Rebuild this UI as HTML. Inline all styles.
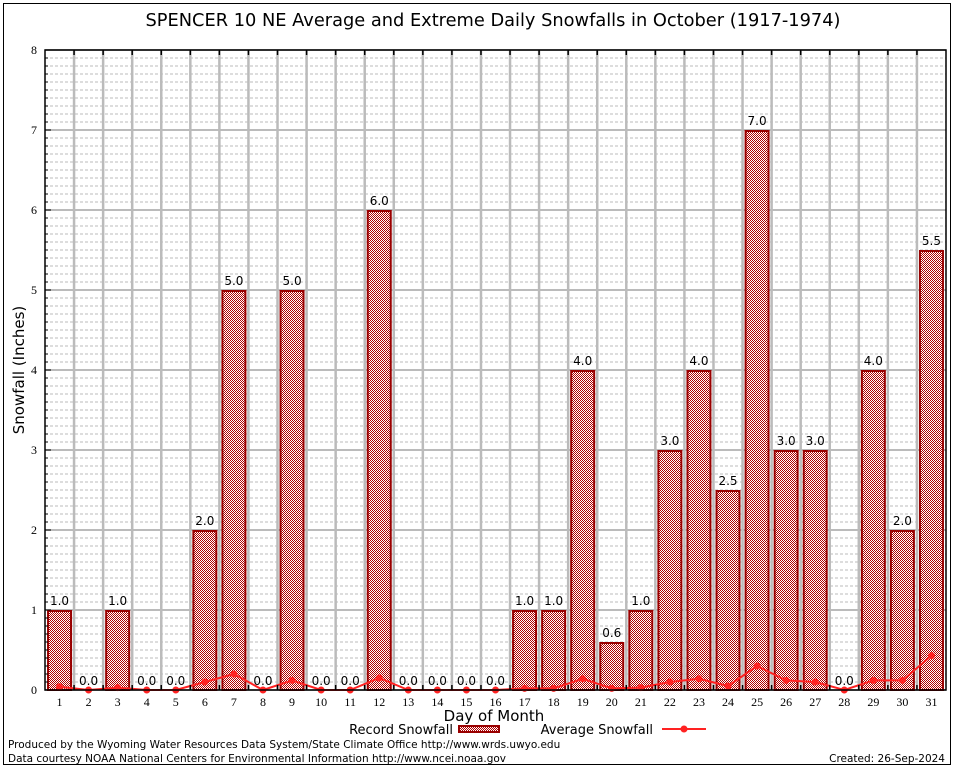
<!DOCTYPE html>
<html><head><meta charset="utf-8"><style>
html,body{margin:0;padding:0;background:#fff;}
svg{display:block;font-family:"DejaVu Sans","Liberation Sans",sans-serif;}
</style></head><body>
<svg id="chart" width="954" height="768" viewBox="0 0 954 768">
<defs>
<pattern id="chk" width="2" height="2" patternUnits="userSpaceOnUse">
<rect width="2" height="2" fill="#fff"/><rect width="1" height="1" fill="#b00000"/><rect x="1" y="1" width="1" height="1" fill="#b00000"/>
</pattern>
</defs>
<rect x="3.5" y="3.5" width="947" height="761" fill="none" stroke="#000"/>
<text x="493" y="26" font-size="17.8" text-anchor="middle">SPENCER 10 NE Average and Extreme Daily Snowfalls in October (1917-1974)</text>
<g id="grid"></g>
<g id="bars"></g>
<g id="avg"></g>
<g id="axes"></g>
<text transform="translate(24,370) rotate(-90)" font-size="15" text-anchor="middle">Snowfall (Inches)</text>
<text x="494" y="721" font-size="15" text-anchor="middle">Day of Month</text>
<g>
<text x="453" y="734" font-size="13" text-anchor="end">Record Snowfall</text>
<rect x="459" y="726" width="40" height="6" fill="url(#chk)" stroke="#900" stroke-width="2"/>
</g>
<g>
<text x="653" y="734" font-size="13" text-anchor="end">Average Snowfall</text>
<line x1="662" y1="729" x2="706" y2="729" stroke="#f22" stroke-width="2"/>
<circle cx="684" cy="729" r="3.5" fill="#f22"/>
</g>
<text x="8" y="748" font-size="10.5">Produced by the Wyoming Water Resources Data System/State Climate Office http://www.wrds.uwyo.edu</text>
<text x="8" y="762" font-size="10.5">Data courtesy NOAA National Centers for Environmental Information http://www.ncei.noaa.gov</text>
<text x="945" y="762" font-size="10.5" text-anchor="end">Created: 26-Sep-2024</text>
</svg>
<script>
const days=[1,2,3,4,5,6,7,8,9,10,11,12,13,14,15,16,17,18,19,20,21,22,23,24,25,26,27,28,29,30,31];
const recordSnow=[1.0,0.0,1.0,0.0,0.0,2.0,5.0,0.0,5.0,0.0,0.0,6.0,0.0,0.0,0.0,0.0,1.0,1.0,4.0,0.6,1.0,3.0,4.0,2.5,7.0,3.0,3.0,0.0,4.0,2.0,5.5];
const avgSnow=[0.04,0,0.03,0,0,0.1,0.2,0,0.12,0,0,0.15,0,0,0,0,0.02,0.02,0.14,0.02,0.03,0.1,0.14,0.05,0.3,0.12,0.1,0,0.12,0.12,0.43];
const yTicks=[0,1,2,3,4,5,6,7,8];
const NS="http://www.w3.org/2000/svg";
const L=45,R=946,T=50,B=690,yMax=8;
const step=(R-L)/days.length;
const xc=d=>L+(d-0.5)*step;
const y=v=>B-v/yMax*(B-T);
function mk(p,tag,at){const e=document.createElementNS(NS,tag);for(const k in at)e.setAttribute(k,at[k]);p.appendChild(e);return e;}
const grid=document.getElementById('grid'),bars=document.getElementById('bars'),avg=document.getElementById('avg'),axes=document.getElementById('axes');
for(let i=0;i<=yMax*10;i++){const v=i/10;const major=i%10===0;
 const gl=mk(grid,'line',{x1:L,x2:R,y1:y(v),y2:y(v),stroke:'#bbb','stroke-width':major?2:1,'stroke-dasharray':major?'':'3,2'});
 
 
 mk(axes,'line',{x1:L,x2:L+(major?6:3),y1:y(v),y2:y(v),stroke:'#000'});}
for(let i=1;i<days.length;i++){const x=L+i*step;
 const vl=mk(grid,'line',{x1:x,x2:x,y1:T,y2:B,stroke:'#bbb','stroke-width':2.5});
 
 
 mk(axes,'line',{x1:x,x2:x,y1:T,y2:T+5,stroke:'#000','stroke-width':1.5});
 mk(axes,'line',{x1:x,x2:x,y1:B,y2:B-5,stroke:'#000','stroke-width':1.5});}
yTicks.forEach(t=>{const tx=mk(axes,'text',{x:L-8,y:y(t)+4,'font-size':12,'text-anchor':'end','font-family':'Liberation Serif, serif'});tx.textContent=t;
 
 });
days.forEach((d,i)=>{const v=recordSnow[i];const x=xc(d);
 if(v>0){const r=mk(bars,'rect',{x:x-11.5,y:y(v)+1,width:23,height:B-y(v)-1,fill:'url(#chk)',stroke:'#990000','stroke-width':2});
  
  }
 const lb=mk(bars,'text',{x:x,y:y(v)-5,'font-size':12,'text-anchor':'middle'});lb.textContent=v.toFixed(1);
 
 
 const xl=mk(axes,'text',{x:x,y:B+16,'font-size':12,'text-anchor':'middle','font-family':'Liberation Serif, serif'});xl.textContent=d;
 
 });
const pts=days.map((d,i)=>xc(d)+','+y(avgSnow[i])).join(' ');
const pl=mk(avg,'polyline',{points:pts,fill:'none',stroke:'#f22','stroke-width':2});


days.forEach((d,i)=>{const c=mk(avg,'circle',{cx:xc(d),cy:y(avgSnow[i]),r:3.5,fill:'#f22'});
 
 });
mk(axes,'rect',{x:L,y:T,width:R-L,height:B-T,fill:'none',stroke:'#000','stroke-width':1.5});
</script>
</body></html>
